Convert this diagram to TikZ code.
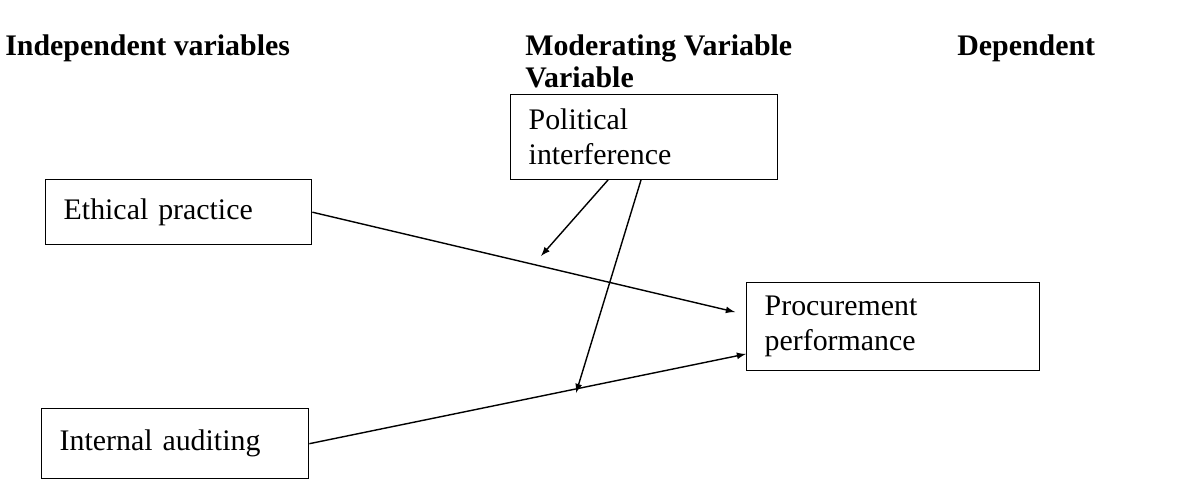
\documentclass[tikz,border=0pt]{standalone}
\usepackage{fontspec}
\setmainfont{Liberation Serif}
\usepackage{tikz}

\begin{document}
\begin{tikzpicture}[x=0.02cm, y=-0.02cm,
    box/.style={draw, thick, anchor=north west, inner xsep=0.36cm, align=left,
                font=\fontsize{17}{20}\selectfont},
    head/.style={anchor=base west, inner sep=0pt, font=\fontsize{17}{20}\selectfont\bfseries},
    arr/.style={->, >=latex, thick}]
    \useasboundingbox (0,0) rectangle (1197,490);
    % Headings
    \node[head] (hind) at (5,55) {Independent variables};
    \node[head] (hmod) at (525,55) {Moderating Variable};
    \node[head] (hvar) at (525,87) {Variable};
    \node[head] (hdep) at (957,55) {Dependent};
    % Boxes
    \node[box, minimum width=5.32cm, minimum height=1.30cm, text width=4.6cm] (ethical) at (45,179) {Ethical practice};
    \node[box, minimum width=5.34cm, minimum height=1.40cm, text width=4.62cm] (internal) at (41,408) {Internal auditing};
    \node[box, minimum width=5.34cm, minimum height=1.70cm, text width=4.62cm] (political) at (510,94) {Political\\interference};
    \node[box, minimum width=5.86cm, minimum height=1.76cm, text width=5.14cm] (procure) at (746,282) {Procurement\\performance};
    % Arrow end points
    \coordinate (p1) at (608,180);
    \coordinate (p2) at (641,180);
    \coordinate (m1) at (541,256);
    \coordinate (m2) at (576,393);
    \coordinate (e1) at (735,312);
    \coordinate (e2) at (746,354);
    % Connectors
    \draw[arr] (ethical.east) -- (e1);
    \draw[arr] (internal.east) -- (e2);
    \draw[arr] (p1) -- (m1);
    \draw[arr] (p2) -- (m2);
\end{tikzpicture}
\end{document}
